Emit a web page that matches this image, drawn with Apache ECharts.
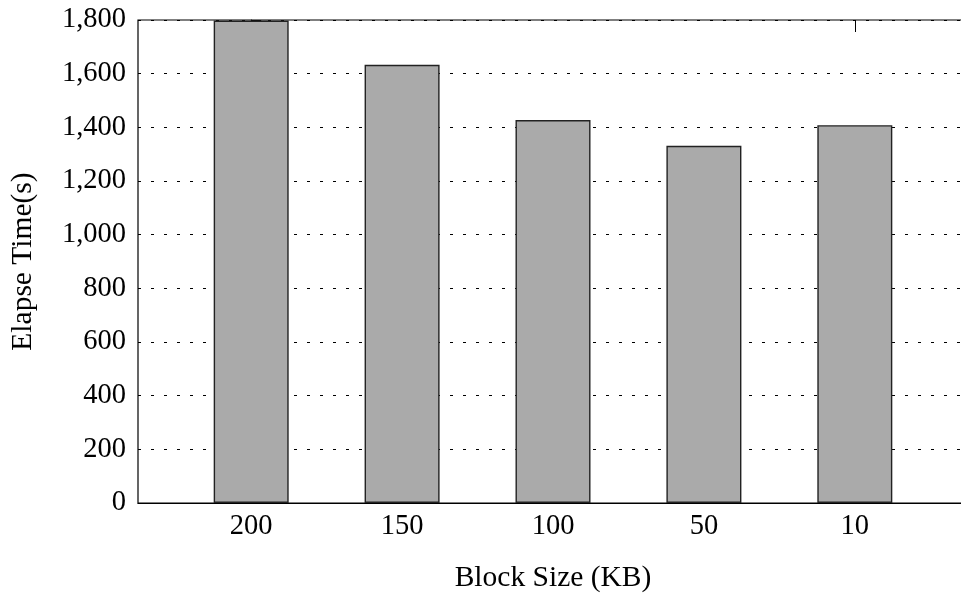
<!DOCTYPE html>
<html>
<head>
<meta charset="utf-8">
<script src="https://cdn.jsdelivr.net/npm/echarts@6/dist/echarts.min.js"></script>
<style>html,body{margin:0;padding:0;background:#fff;}#c{width:961px;height:596px;}</style>
</head>
<body>
<div id="c"></div>
<script>
const categories = ['200', '150', '100', '50', '10'];
const elapseTime = [1798, 1633, 1427, 1331, 1408];
const yTicks = [0, 200, 400, 600, 800, 1000, 1200, 1400, 1600, 1800];

const FONT = 'Liberation Serif';
const chart = echarts.init(document.getElementById('c'), null, {renderer: 'canvas'});
chart.setOption({
  animation: false,
  backgroundColor: '#ffffff',
  grid: {left: 138, top: 20, width: 830, height: 483, show: true, borderColor: '#000', borderWidth: 1.2, backgroundColor: 'transparent', outerBoundsMode: 'none', containLabel: false},
  xAxis: [{
    type: 'value', min: -0.75, max: 4.75, position: 'bottom',
    name: 'Block Size (KB)', nameLocation: 'middle', nameGap: 60,
    nameTextStyle: {fontFamily: FONT, fontSize: 29.5, color: '#000'},
    axisLine: {show: true, lineStyle: {color: '#000', width: 1.2}},
    axisTick: {show: false},
    splitLine: {show: false},
    axisLabel: {customValues: categories.map((c, i) => i), formatter: v => categories[Math.round(v)], fontFamily: FONT, fontSize: 28.5, color: '#000', margin: 9}
  }, {
    type: 'value', min: -0.75, max: 4.75, position: 'top',
    axisLine: {show: false},
    axisTick: {show: true, inside: true, length: 12, customValues: [categories.length - 1], lineStyle: {color: '#000', width: 1}},
    axisLabel: {show: false},
    splitLine: {show: false}
  }],
  yAxis: {
    type: 'value', min: yTicks[0], max: yTicks[yTicks.length - 1], interval: 200,
    name: 'Elapse Time(s)', nameLocation: 'middle', nameGap: 100,
    nameTextStyle: {fontFamily: FONT, fontSize: 29.5, color: '#000'},
    axisLine: {show: true, lineStyle: {color: '#000', width: 1.2}},
    axisTick: {show: true, inside: true, length: 10, lineStyle: {color: '#000'}},
    axisLabel: {fontFamily: FONT, fontSize: 28.5, color: '#000', margin: 12, formatter: v => v.toLocaleString('en-US')},
    splitLine: {show: true, lineStyle: {color: '#000', width: 1, type: [3, 10]}}
  },
  series: [{
    type: 'bar',
    xAxisIndex: 0,
    data: elapseTime.map((v, i) => [i, v]),
    barWidth: 75,
    itemStyle: {color: '#aaaaaa', borderColor: '#222', borderWidth: 1.4},
    z: 3
  }]
});
</script>
</body>
</html>
